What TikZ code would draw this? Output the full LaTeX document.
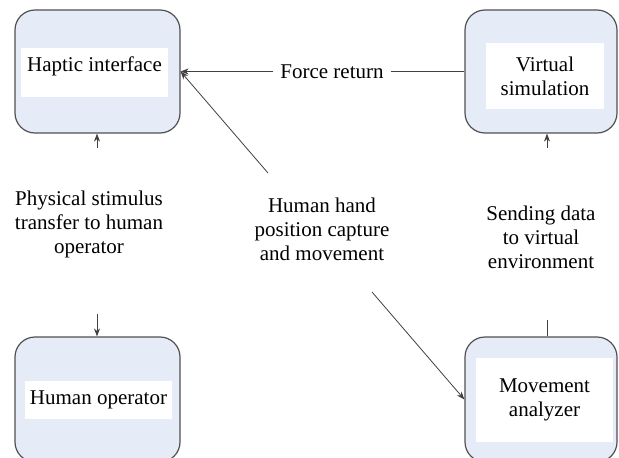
\documentclass[tikz,border=0pt]{standalone}
\usepackage{fontspec}
\setmainfont{Liberation Serif}
\usetikzlibrary{arrows.meta}
\definecolor{boxfill}{HTML}{E6ECF7}
\definecolor{boxline}{HTML}{505050}
\definecolor{wireline}{HTML}{404040}
\begin{document}
\begin{tikzpicture}[x=1pt, y=-1pt, >={Stealth[length=8pt, width=6pt]},
        block/.style={draw=boxline, line width=1.2pt, fill=boxfill, rounded corners=20pt, inner sep=0pt},
        inbox/.style={fill=white, inner sep=0pt, align=center, font=\fontsize{21}{24}\selectfont},
        note/.style={align=center, inner sep=1pt, font=\fontsize{21}{24}\selectfont},
        wire/.style={draw=wireline, line width=0.8pt}]
        \useasboundingbox (0, 0) rectangle (619, 458);
        \clip (0, 0) rectangle (619, 458);
        % the four blocks
        \node[block, minimum width=165pt, minimum height=123pt] (haptic) at (97.5, 71.5) {};
        \node[block, minimum width=152pt, minimum height=123pt] (virtual) at (541, 71.5) {};
        \node[block, minimum width=165pt, minimum height=125pt] (operator) at (97.5, 399.5) {};
        \node[block, minimum width=152pt, minimum height=125pt] (analyzer) at (541, 399.5) {};
        \node[inbox, anchor=north, minimum width=147pt, text height=23pt, text depth=26pt] (haptictxt) at (94.5, 48) {Haptic interface};
        \node[inbox, minimum width=118pt, minimum height=66pt] (virtualtxt) at (545, 76) {Virtual\\simulation};
        \node[inbox, minimum width=147pt, minimum height=38pt] (operatortxt) at (98.5, 400) {Human operator};
        \node[inbox, minimum width=137pt, minimum height=84pt] (analyzertxt) at (544.5, 400) {Movement\\analyzer};
        % labels
        \node[note, inner xsep=7pt] (forcetxt) at (332, 71.5) {Force return};
        \node[note] (stimulus) at (89, 224) {Physical stimulus\\transfer to human\\operator};
        \node[note] (handtxt) at (322, 229) {Human hand\\position capture\\and movement};
        \node[note] (sendtxt) at (541, 237) {Sending data\\to virtual\\environment};
        % free ends
        \coordinate (hapticin) at (97, 148);
        \coordinate (opin) at (97, 314);
        \coordinate (virtin) at (547, 148);
        \coordinate (analout) at (547, 320);
        \coordinate (handup) at (268, 173);
        \coordinate (handdown) at (372, 292);
        % connectors
        \draw[wire] (virtual.west) -- (forcetxt.east);
        \draw[wire, ->] (forcetxt.west) -- (haptic.east);
        \draw[wire, ->] (handup) -- (haptic.east);
        \draw[wire, ->] (hapticin) -- (hapticin |- haptic.south);
        \draw[wire, ->] (opin) -- (opin |- operator.north);
        \draw[wire, ->] (virtin) -- (virtin |- virtual.south);
        \draw[wire] (analout) -- (analout |- analyzer.north);
        \draw[wire, ->] (handdown) -- (analyzer.west);
    \end{tikzpicture}
\end{document}
